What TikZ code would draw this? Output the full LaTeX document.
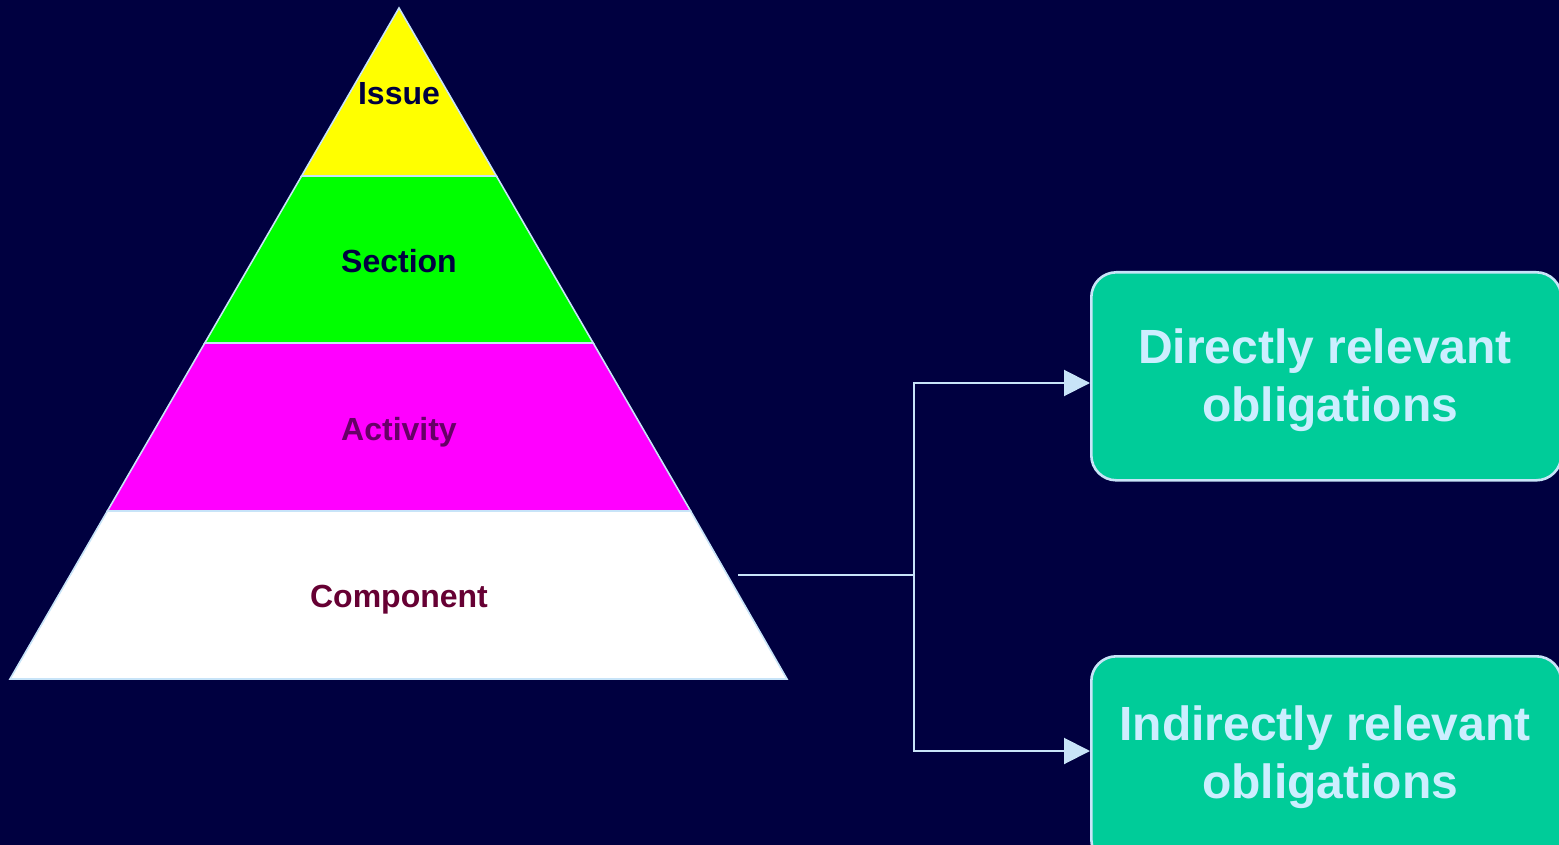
\documentclass[tikz,border=0pt]{standalone}
\usepackage{fontspec}
\setmainfont{Liberation Sans}
\usetikzlibrary{arrows.meta}
\definecolor{bg}{HTML}{000040}
\definecolor{edge}{HTML}{C8E4F8}
\definecolor{boxfill}{HTML}{00CC99}
\definecolor{boxtext}{HTML}{CCEEFF}
\definecolor{navytext}{HTML}{000040}
\definecolor{purpletext}{HTML}{660066}
\definecolor{maroontext}{HTML}{660033}
\definecolor{lyellow}{HTML}{FFFF00}
\definecolor{lgreen}{HTML}{00FF00}
\definecolor{lmagenta}{HTML}{FF00FF}
\definecolor{lwhite}{HTML}{FFFFFF}
\tikzset{
  layer/.style={draw=edge, line width=0.8pt},
  lbl/.style={font=\bfseries\fontsize{16}{19}\selectfont, inner sep=0pt},
  obox/.style={draw=edge, line width=1.3pt, fill=boxfill, rounded corners=12.5pt,
    minimum width=235pt, minimum height=104pt, anchor=north west, inner sep=0pt},
  otext/.style={align=center, text=boxtext, inner sep=0pt,
    font=\bfseries\fontsize{24}{29}\selectfont},
  conn/.style={draw=edge, line width=1pt},
  arr/.style={conn, -{Triangle[length=13pt,width=13pt]}}
}
\begin{document}
\begin{tikzpicture}[x=0.5pt,y=-0.5pt]
\useasboundingbox (0,0) rectangle (1559,845);
\fill[bg] (0,0) rectangle (1559,845);
\clip (0,0) rectangle (1559,845);
% pyramid layers
\path[layer, fill=lyellow] (399,8) -- (301.6,176) -- (496.4,176) -- cycle;
\path[layer, fill=lgreen] (301.6,176) -- (204.8,343) -- (593.2,343) -- (496.4,176) -- cycle;
\path[layer, fill=lmagenta] (204.8,343) -- (107.4,511) -- (690.6,511) -- (593.2,343) -- cycle;
\path[layer, fill=lwhite] (107.4,511) -- (10,679) -- (787,679) -- (690.6,511) -- cycle;
\node[lbl, text=navytext] (issue) at (399,94) {Issue};
\node[lbl, text=navytext] (section) at (399,261) {Section};
\node[lbl, text=purpletext] (activity) at (399,432) {Activity};
\node[lbl, text=maroontext] (component) at (399,600) {Component};
% boxes
\node[obox] (direct) at (1090,271) {};
\node[otext] (directtext) at (1325,380) {Directly relevant\\\hspace*{5pt}obligations};
\node[obox] (indirect) at (1090,655) {};
\node[otext] (indirecttext) at (1325,757) {Indirectly relevant\\\hspace*{5pt}obligations};
% connectors
\coordinate (start) at (738,575);
\coordinate (split) at (914,575);
\draw[conn] (start) -- (split);
\draw[arr] (split) -- (914,383) -- (direct.west |- 0,383);
\draw[arr] (split) -- (914,751) -- (indirect.west |- 0,751);
\end{tikzpicture}
\end{document}
